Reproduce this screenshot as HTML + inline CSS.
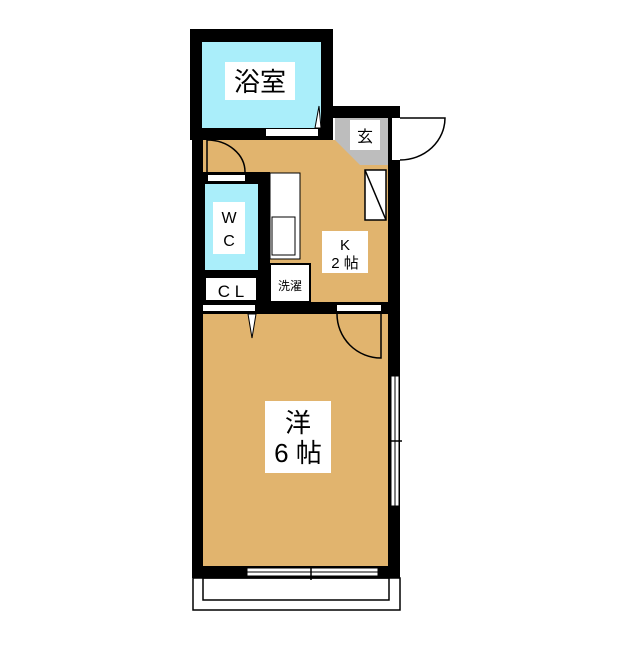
<!DOCTYPE html><html><head><meta charset="utf-8"><style>body{margin:0;background:#fff}svg text{font-family:"Liberation Sans","Noto Sans CJK JP",sans-serif}</style></head><body>
<svg width="640" height="640" viewBox="0 0 640 640" xmlns="http://www.w3.org/2000/svg">
<rect x="190" y="29" width="143" height="111" fill="#000"/>
<rect x="202" y="42" width="119" height="86" fill="#aaeefa"/>
<rect x="333" y="106" width="67" height="12" fill="#000"/>
<rect x="192" y="140" width="11" height="438" fill="#000"/>
<rect x="388" y="106" width="12" height="472" fill="#000"/>
<rect x="335" y="118" width="53" height="47" fill="#bdbdbd"/>
<polygon points="203,140 335,140 360,165 388,165 388,302 203,302" fill="#e1b46e"/>
<rect x="203" y="172" width="67" height="100" fill="#000"/>
<rect x="205" y="184" width="53" height="86" fill="#aaeefa"/>
<rect x="208" y="175" width="37" height="6" fill="#fff"/>
<rect x="203" y="272" width="67" height="30" fill="#000"/>
<rect x="206" y="278" width="50" height="22" fill="#fff"/>
<rect x="192" y="302" width="208" height="12" fill="#000"/>
<rect x="203" y="305" width="52" height="6" fill="#fff"/>
<rect x="337" y="305" width="44" height="6" fill="#fff"/>
<rect x="203" y="314" width="185" height="252" fill="#e1b46e"/>
<rect x="192" y="566" width="208" height="12" fill="#000"/>
<rect x="193" y="578" width="207" height="32" fill="none" stroke="#000" stroke-width="1.5"/>
<rect x="203" y="578" width="186" height="22" fill="none" stroke="#000" stroke-width="1.5"/>
<rect x="247" y="568" width="131" height="8" fill="#fff" stroke="#000" stroke-width="1"/>
<line x1="247" y1="572" x2="378" y2="572" stroke="#000"/>
<line x1="311" y1="566" x2="311" y2="580" stroke="#000" stroke-width="1.5"/>
<rect x="391" y="376" width="8" height="130" fill="#fff" stroke="#000"/>
<line x1="395" y1="376" x2="395" y2="506" stroke="#000"/>
<line x1="388" y1="441" x2="402" y2="441" stroke="#000" stroke-width="1.5"/>
<path d="M337 314 A44 44 0 0 0 381 358 L381 314" fill="none" stroke="#000" stroke-width="1.5"/>
<polygon points="248,314 256,314 252,338" fill="#fff" stroke="#000"/>
<rect x="266" y="129" width="52" height="7" fill="#fff"/>
<polygon points="315,128 321,128 319,106" fill="#fff" stroke="#000"/>
<path d="M207 140 A38 32 0 0 1 245 172" fill="none" stroke="#000" stroke-width="1.5"/>
<line x1="207" y1="140" x2="207" y2="172" stroke="#000" stroke-width="1.5"/>
<rect x="392" y="118" width="8" height="42" fill="#fff"/>
<path d="M400 118 L445 118 A45 42 0 0 1 400 160" fill="#fff" stroke="#000" stroke-width="1.5"/>
<rect x="270" y="173" width="30" height="86" fill="#fff" stroke="#000"/>
<rect x="272" y="217" width="23" height="38" fill="#fff" stroke="#000"/>
<rect x="270" y="264" width="40" height="38" fill="#fff" stroke="#000" stroke-width="2"/>
<rect x="365" y="170" width="21" height="50" fill="#fff" stroke="#000" stroke-width="1.5"/>
<line x1="365" y1="170" x2="386" y2="220" stroke="#000" stroke-width="1.5"/>
<rect x="225" y="62" width="70" height="38" fill="#fff"/>
<text x="260" y="91" font-size="26" text-anchor="middle">浴室</text>
<rect x="350" y="120" width="30" height="30" fill="#fff"/>
<text x="365" y="142" font-size="16" text-anchor="middle">玄</text>
<rect x="213" y="202" width="32" height="52" fill="#fff"/>
<text x="229" y="223" font-size="16" text-anchor="middle">W</text>
<text x="229" y="246" font-size="16" text-anchor="middle">C</text>
<text x="231" y="297" font-size="17" text-anchor="middle">C L</text>
<text x="290" y="290" font-size="12" text-anchor="middle">洗濯</text>
<rect x="322" y="231" width="46" height="42" fill="#fff"/>
<text x="345" y="250" font-size="15" text-anchor="middle">K</text>
<text x="345" y="268" font-size="15" text-anchor="middle">2 帖</text>
<rect x="265" y="401" width="66" height="72" fill="#fff"/>
<text x="298" y="432" font-size="26" text-anchor="middle">洋</text>
<text x="298" y="462" font-size="26" text-anchor="middle">6 帖</text>
</svg></body></html>
